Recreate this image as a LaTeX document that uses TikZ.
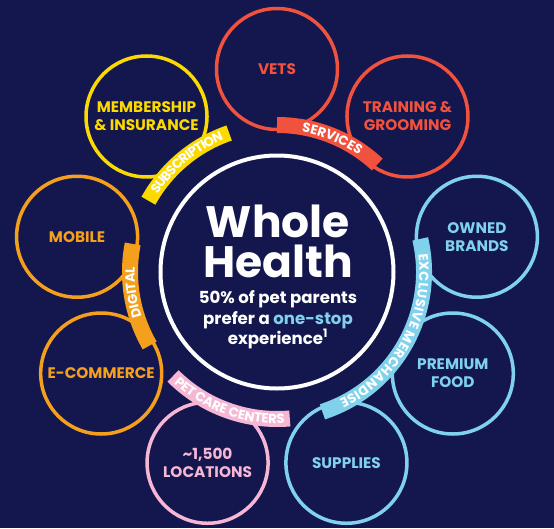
\documentclass[tikz,border=0pt]{standalone}
\usepackage{fontspec}
\setmainfont{Poppins}
\usetikzlibrary{decorations.text}

\definecolor{navy}{RGB}{20,23,78}
\definecolor{servred}{RGB}{240,82,62}
\definecolor{subyellow}{RGB}{252,218,0}
\definecolor{digorange}{RGB}{245,160,28}
\definecolor{merchblue}{RGB}{128,210,236}
\definecolor{carepink}{RGB}{245,183,212}

\newcommand{\ringfont}{\fontsize{15.3}{18}\selectfont\bfseries}
\newcommand{\bandfont}{\fontsize{13.2}{14}\selectfont\bfseries}

\tikzset{
  ring/.style={circle, draw=#1, text=#1, line width=3.5, minimum size=121, inner sep=0, align=center, font=\ringfont},
  band/.style={draw=#1, line width=16, line cap=butt},
  bandtext/.style={decorate, decoration={text effects along path, text={#1}, raise=-4.6pt,
      text effects/.cd, fit text to path, characters={text=white, font=\bandfont, inner sep=0pt, anchor=base, transform shape}}},
}

\begin{document}
\begin{tikzpicture}[x=1pt, y=1pt]
  \fill[navy] (-277,-256) rectangle (277,272);
  \useasboundingbox (-277,-256) rectangle (277,272);

  % centre
  \node[circle, draw=white, line width=4, minimum size=233, inner sep=0] (hub) at (0,0) {};
  \node[anchor=base, text=white, font=\fontsize{44}{44}\selectfont\bfseries] (whole) at (1,35) {Whole};
  \node[anchor=base, text=white, font=\fontsize{44}{44}\selectfont\bfseries] (health) at (1,-5) {Health};
  \node[anchor=base, text=white, font=\fontsize{16.6}{18}\selectfont\bfseries] (stat) at (1,-31) {50\% of pet parents};
  \node[anchor=base, text=white, font=\fontsize{16.6}{18}\selectfont\bfseries] (pref) at (1,-52) {prefer a \textcolor{merchblue}{one-stop}};
  \node[anchor=base, text=white, font=\fontsize{16.6}{18}\selectfont\bfseries] (exper) at (1,-72) {experience\textsuperscript{1}};

  % outer circles
  \node[ring=servred] (vets) at (90:203) {VETS};
  \node[ring=servred] (training) at (50:203) {TRAINING \&\\GROOMING};
  \node[ring=merchblue] (owned) at (10:203) {OWNED\\BRANDS};
  \node[ring=merchblue] (food) at (-30:203) {PREMIUM\\FOOD};
  \node[ring=merchblue] (supplies) at (-70:203) {SUPPLIES};
  \node[ring=carepink] (locations) at (-110:203) {\textasciitilde1,500\\LOCATIONS};
  \node[ring=digorange] (ecommerce) at (-150:203) {E-COMMERCE};
  \node[ring=digorange] (mobile) at (170:203) {MOBILE};
  \node[ring=subyellow] (member) at (130:203) {MEMBERSHIP\\\& INSURANCE};

  % bands
  \draw[band=servred] (90:147) arc[start angle=90, end angle=47, radius=147];
  \draw[band=subyellow] (151:147) arc[start angle=151, end angle=109, radius=147];
  \draw[band=merchblue] (13:147) arc[start angle=13, end angle=-72, radius=147];
  \draw[band=digorange] (210:147) arc[start angle=210, end angle=169, radius=147];
  \draw[band=carepink] (225:147) arc[start angle=225, end angle=275, radius=147];

  % band labels
  \path[bandtext=SERVICES] (80:147) arc[start angle=80, end angle=55, radius=147];
  \path[bandtext=SUBSCRIPTION] (147:147) arc[start angle=147, end angle=112, radius=147];
  \path[bandtext=EXCLUSIVE MERCHANDISE] (7:147) arc[start angle=7, end angle=-64, radius=147];
  \path[bandtext=DIGITAL] (198:147) arc[start angle=198, end angle=178, radius=147];
  \path[bandtext=PET CARE CENTERS] (227:147) arc[start angle=227, end angle=273, radius=147];
\end{tikzpicture}
\end{document}
